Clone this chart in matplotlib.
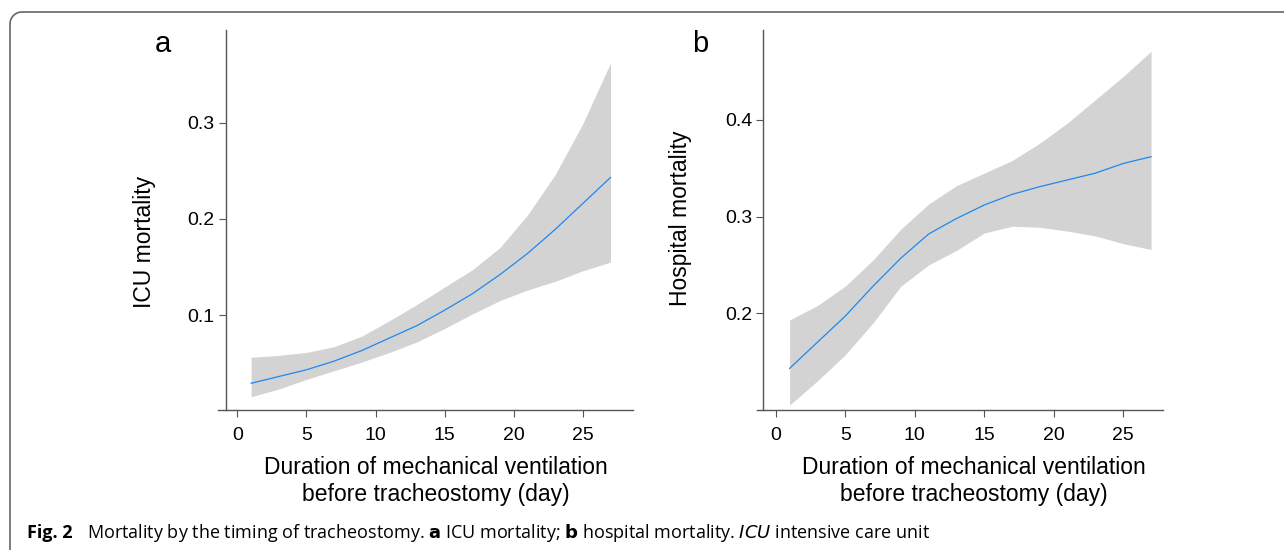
import numpy as np
import matplotlib
matplotlib.use('Agg')
import matplotlib.pyplot as plt
from matplotlib.lines import Line2D

plt.rcParams['font.family'] = ['Liberation Sans', 'DejaVu Sans']

# values
days = [1, 3, 5, 7, 9, 11, 13, 15, 17, 19, 21, 23, 25, 27]

icu_fit = [0.029, 0.036, 0.043, 0.052, 0.063, 0.076, 0.089, 0.105, 0.122, 0.142, 0.164, 0.189, 0.216, 0.243]
icu_upper = [0.056, 0.058, 0.061, 0.067, 0.078, 0.094, 0.111, 0.129, 0.147, 0.170, 0.204, 0.246, 0.299, 0.362]
icu_lower = [0.015, 0.023, 0.033, 0.042, 0.051, 0.061, 0.072, 0.086, 0.101, 0.115, 0.126, 0.135, 0.146, 0.155]

hosp_fit = [0.143, 0.170, 0.197, 0.228, 0.257, 0.282, 0.298, 0.312, 0.323, 0.331, 0.338, 0.345, 0.355, 0.362]
hosp_upper = [0.193, 0.208, 0.228, 0.255, 0.287, 0.313, 0.332, 0.345, 0.358, 0.376, 0.397, 0.421, 0.445, 0.471]
hosp_lower = [0.105, 0.130, 0.157, 0.190, 0.228, 0.250, 0.265, 0.283, 0.290, 0.289, 0.285, 0.280, 0.272, 0.266]

xticks = [0, 5, 10, 15, 20, 25]
icu_yticks = [0.1, 0.2, 0.3]
hosp_yticks = [0.2, 0.3, 0.4]

W, H = 1284, 550
AX_COL = '#555555'


def panel(rect, fit, upper, lower, xlim, ylim, yspine_x, yticks, ylabel, letter,
          ylab_pos, xlab_x, letter_pos):
    ax = fig.add_axes(rect)
    ax.fill_between(days, lower, upper, color='#d3d3d3', lw=0)
    ax.plot(days, fit, color='#1e88f0', lw=0.9)
    ax.set_xlim(*xlim)
    ax.set_ylim(*ylim)
    ax.set_xticks(xticks)
    ax.set_yticks(yticks)
    ax.set_yticklabels([f'{v:.1f}' for v in yticks])
    for s in ['top', 'right']:
        ax.spines[s].set_visible(False)
    ax.spines['left'].set_position(('data', yspine_x))
    for s in ['left', 'bottom']:
        ax.spines[s].set_color(AX_COL)
        ax.spines[s].set_linewidth(1.0)
    ax.tick_params(colors=AX_COL, labelcolor='black', labelsize=14, width=0.8,
                   length=5)
    ax.tick_params(axis='x', pad=7)
    ax.tick_params(axis='y', pad=3)
    ax.set_ylabel(ylabel, fontsize=16.5)
    ax.yaxis.set_label_coords(ylab_pos[0], ylab_pos[1], transform=fig.transFigure)
    ax.set_xlabel('Duration of mechanical ventilation\nbefore tracheostomy (day)',
                  fontsize=16.5, linespacing=1.25)
    ax.xaxis.set_label_coords(xlab_x, 1 - 481 / H, transform=fig.transFigure)
    ax.xaxis.label.set_va('center')
    fig.text(letter_pos[0], letter_pos[1], letter, fontsize=21,
             ha='center', va='center')
    return ax


fig = plt.figure(figsize=(W / 100, H / 100), dpi=100)

panel([218 / W, 1 - 410 / H, 415 / W, 380 / H], icu_fit, icu_upper, icu_lower,
      (-1.397, 28.63), (0.0012, 0.3964), -0.82, icu_yticks, 'ICU mortality', 'a',
      (156 / W, 1 - 242 / H), 435.5 / W, (163 / W, 1 - 44 / H))
panel([756.7 / W, 1 - 410 / H, 406.3 / W, 380 / H], hosp_fit, hosp_upper, hosp_lower,
      (-1.367, 27.86), (0.0999, 0.4931), -0.89, hosp_yticks, 'Hospital mortality', 'b',
      (692 / W, 1 - 218 / H), 974 / W, (700 / W, 1 - 44 / H))

# rounded frame around the figure
r = 12
t = np.linspace(np.pi, np.pi / 2, 20)
fx = np.concatenate([[10], 10 + r + r * np.cos(t), [W + 5]])
fy = np.concatenate([[H + 5], 12 + r - r * np.sin(t), [12]])
fig.add_artist(Line2D(fx / W, 1 - fy / H, transform=fig.transFigure,
                      color='#666666', lw=1.2))

fig.text(27 / W, 1 - 538 / H, 'Fig. 2', fontsize=13, fontweight='bold',
         family='Open Sans', va='baseline')
fig.text(87 / W, 1 - 538 / H,
         'Mortality by the timing of tracheostomy. $\\bf{a}$ ICU mortality; '
         '$\\bf{b}$ hospital mortality. $\\it{ICU}$ intensive care unit',
         fontsize=13, family='Open Sans', va='baseline')

fig.savefig('out.png', dpi=100)
